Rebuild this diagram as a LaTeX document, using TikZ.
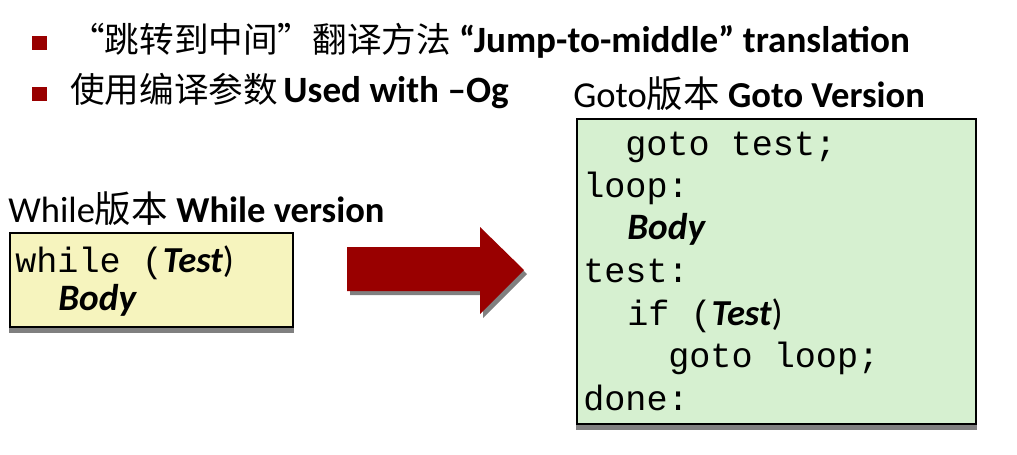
\documentclass[tikz,border=0pt]{standalone}
\usepackage{fontspec}
\setmainfont{Carlito}
\setmonofont{Liberation Mono}
\newfontfamily\cjk{Noto Sans CJK SC}
\usepackage{tikz}
\definecolor{rossoscuro}{RGB}{153,0,0}
\definecolor{giallino}{RGB}{246,244,190}
\definecolor{verdino}{RGB}{214,240,208}
\definecolor{ombra}{RGB}{128,128,128}

\begin{document}
\begin{tikzpicture}[x=0.025cm,y=-0.025cm,
  quadretto/.style={fill=rossoscuro,minimum size=10.5pt,inner sep=0pt},
  testo/.style={anchor=base west,inner sep=0pt,font=\fontsize{24.6}{28}\selectfont},
  titolo/.style={anchor=base west,inner sep=0pt,font=\fontsize{26}{30}\selectfont},
  codice/.style={anchor=base west,inner sep=0pt,font=\fontsize{25}{29}\ttfamily}]
\useasboundingbox (0,0) rectangle (1017,454);

% elenco in alto
\node[quadretto] (puntoA) at (39.5,43) {};
\node[quadretto] (puntoB) at (39.5,94) {};
\node[testo] (rigaA) at (70,52) {{\cjk “跳转到中间”翻译方法}\hspace{6pt}{\fontsize{26.4}{30}\selectfont\bfseries “Jump-to-middle” translation}};
\node[testo] (rigaB) at (70,102) {{\cjk 使用编译参数}\hspace{4pt}{\fontsize{26.4}{30}\selectfont\bfseries Used with –Og}};

% riquadro 1 - versione while
\node[titolo] (titoloWhile) at (8,222) {While{\cjk 版本} \textbf{While version}};
\fill[ombra] (9,239) rectangle (294,333);
\draw[fill=giallino,line width=0.9pt] (10,233) rectangle (293,327);
\node[codice] (w1) at (15,272) {while ({\fontsize{26}{30}\rmfamily\bfseries\itshape Test}{\fontsize{26}{30}\rmfamily)}};
\node[codice] (w2) at (58,310) {\fontsize{26.5}{30}\rmfamily\bfseries\itshape Body};

% freccia
\fill[ombra] (350,251) -- (483,251) -- (483,231) -- (527,274) -- (483,318) -- (483,295) -- (350,295) -- cycle;
\fill[rossoscuro] (347,247) -- (480,247) -- (480,227) -- (524,270) -- (480,314) -- (480,291) -- (347,291) -- cycle;

% riquadro 2 - versione goto
\node[titolo] (titoloGoto) at (573,107) {Goto{\cjk 版本} \textbf{Goto Version}};
\fill[ombra] (576,125) rectangle (977,430);
\draw[fill=verdino,line width=0.9pt] (577,119) rectangle (976,424);
\node[codice] (g1) at (625,155) {goto test;};
\node[codice] (g2) at (583,197) {loop:};
\node[codice] (g3) at (627,239) {\fontsize{26.5}{30}\rmfamily\bfseries\itshape Body};
\node[codice] (g4) at (583,282) {test:};
\node[codice] (g5) at (627,325) {if ({\fontsize{26}{30}\rmfamily\bfseries\itshape Test}{\fontsize{26}{30}\rmfamily)}};
\node[codice] (g6) at (668,367) {goto loop;};
\node[codice] (g7) at (583,410) {done:};
\end{tikzpicture}
\end{document}
